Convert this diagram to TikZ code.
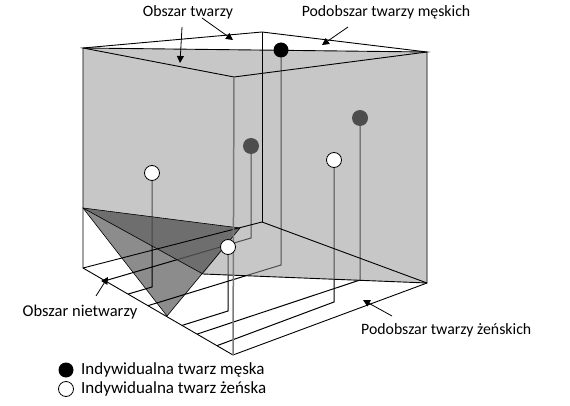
\documentclass[tikz,border=0pt]{standalone}
\usepackage{fontspec}
\setmainfont{Carlito}
\usetikzlibrary{arrows.meta,calc}
\definecolor{slabc}{HTML}{949494}
\definecolor{trimed}{HTML}{8C8C8C}
\definecolor{tridark}{HTML}{3C3C3C}
\definecolor{frontc}{HTML}{7A7A7A}
\begin{document}
\begin{tikzpicture}[x=1pt,y=-1pt,
  edge/.style={black,line width=0.9pt},
  drop/.style={black,line width=1pt},
  triline/.style={black,line width=0.6pt},
  lbl/.style={font=\fontsize{15.8}{18}\selectfont,inner sep=0pt},
  lgd/.style={font=\fontsize{17}{20}\selectfont,inner sep=0pt},
  pointer/.style={black,line width=0.8pt,-{Triangle[length=7pt,width=7pt]}},
  dotb/.style={circle,fill=black,minimum size=15pt,inner sep=0pt},
  dotw/.style={circle,draw=black,fill=white,line width=0.8pt,minimum size=15pt,inner sep=0pt}]
\useasboundingbox (0,0) rectangle (570,406);
\fill[white] (0,0) rectangle (570,406);
% cube corners
\coordinate (TL) at (83,48);
\coordinate (TB) at (262,32);
\coordinate (TR) at (427,52);
\coordinate (TF) at (234,77);
\coordinate (BL) at (83,268);
\coordinate (BB) at (262,222);
\coordinate (BR) at (427,283);
\coordinate (BF) at (233,355);
% slab and triangle
\coordinate (S1) at (83,208);
\coordinate (S2) at (203,274);
\coordinate (T1) at (240,228);
\coordinate (T2) at (167,316);
% dots
\coordinate (pA) at (281,50);
\coordinate (pB) at (251,146);
\coordinate (pE) at (360,118);
\coordinate (pW) at (152,173);
\coordinate (pD) at (334,160);
\coordinate (pC) at (228,247);
% feet
\coordinate (fA) at (281,265);
\coordinate (fB) at (251,238);
\coordinate (fW) at (152,287);
\coordinate (fC) at (228,311);
\coordinate (fE) at (360,280);
\coordinate (fD) at (334,302);
% edge points
\coordinate (eB) at ($(BL)!0.147!(BF)$);
\coordinate (eW) at ($(BL)!0.30!(BF)$);
\coordinate (eA) at ($(BL)!0.433!(BF)$);
\coordinate (eC) at ($(BL)!0.66!(BF)$);
\coordinate (eE) at ($(BL)!0.76!(BF)$);
\coordinate (eD) at ($(BL)!0.893!(BF)$);
% medium triangle
\fill[trimed] (S1) -- (T1) -- (T2) -- cycle;
% drop lines
\draw[drop] (pA) -- (fA) -- (eA);
\draw[drop] (pB) -- (fB) -- (eB);
\draw[drop] (pE) -- (fE) -- (eE);
\draw[drop] (pW) -- (fW) -- (eW);
\draw[drop] (pD) -- (fD) -- (eD);
\draw[drop] (pC) -- (fC) -- (eC);
% hidden dots
\node[dotb,minimum size=16pt] (nB) at (pB) {};
\node[dotb,minimum size=16pt] (nE) at (pE) {};
% slab
\fill[slabc,fill opacity=0.52] (TL) -- (TR) -- (BR) -- (S2) -- (S1) -- cycle;
\fill[tridark,fill opacity=0.4] (S1) -- (T1) -- (S2) -- cycle;
\draw[triline] (S1) -- (T1) -- (T2) -- cycle;
\draw[triline] (S1) -- (S2);
\draw[edge] (TL) -- (TR);
\draw[edge] (S2) -- (BR);
% cube edges
\draw[edge] (TL) -- (TB) -- (TR) -- (TF) -- cycle;
\draw[edge] (TL) -- (BL) -- (BF) -- (BR) -- (TR);
\draw[edge] (BL) -- (BB) -- (BR);
\draw[edge] (TB) -- (BB);
\draw[frontc,line width=1.5pt] (TF) -- (BF);
% visible dots
\node[dotb] (nA) at (pA) {};
\node[dotw] (nW) at (pW) {};
\node[dotw] (nD) at (pD) {};
\node[dotw] (nC) at (pC) {};
% labels
\node[lbl] (lFace) at (188,12) {Obszar twarzy};
\node[lbl] (lMale) at (386,12) {Podobszar twarzy męskich};
\node[lbl,font=\fontsize{16.5}{19}\selectfont] (lNon) at (80,312) {Obszar nietwarzy};
\node[lbl,anchor=west] (lFem) at (361,330) {Podobszar twarzy żeńskich};
\coordinate (a1s) at (182,27);
\coordinate (a1e) at (180,63);
\coordinate (a2s) at (202,18);
\coordinate (a2e) at (233,40);
\coordinate (a3s) at (348,27);
\coordinate (a3e) at (322,45);
\coordinate (a4s) at (96,296);
\coordinate (a4e) at (108,277);
\coordinate (a5s) at (392,316);
\coordinate (a5e) at (363,300);
\draw[pointer] (a1s) -- (a1e);
\draw[pointer] (a2s) -- (a2e);
\draw[pointer] (a3s) -- (a3e);
\draw[pointer] (a4s) -- (a4e);
\draw[pointer] (a5s) -- (a5e);
% legend
\node[dotb] (lgA) at (66,370) {};
\node[dotw] (lgB) at (66,389) {};
\node[lgd,anchor=west] (lg1) at (81,370) {Indywidualna twarz męska};
\node[lgd,anchor=west] (lg2) at (81,389) {Indywidualna twarz żeńska};
\end{tikzpicture}
\end{document}
